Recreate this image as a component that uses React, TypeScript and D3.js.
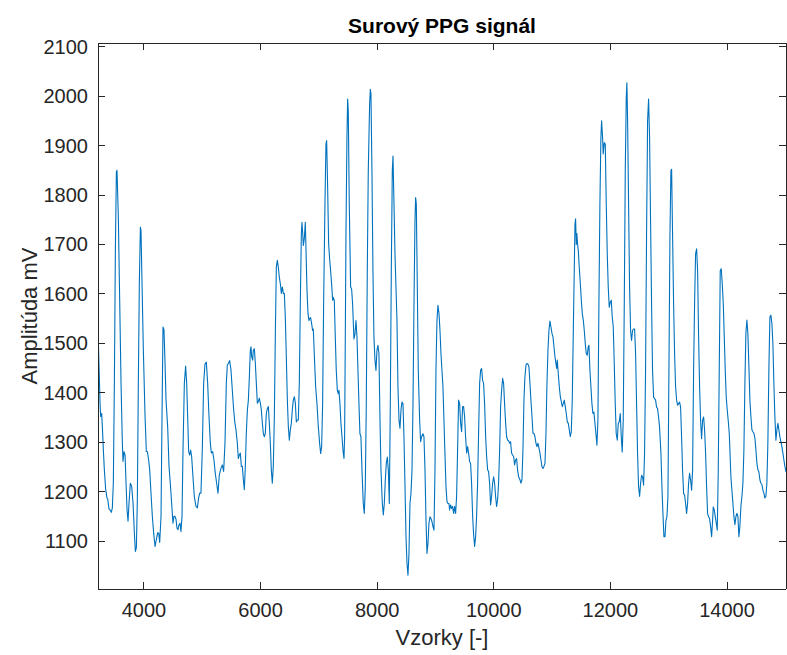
import React from 'react';
import * as d3 from 'd3';

const samples: number[] = [
  3211, 3229, 3246, 3257, 3274, 3286, 3303, 3320, 3343, 3366,
  3377, 3400, 3423, 3440, 3457, 3474, 3492, 3509, 3526, 3537,
  3560, 3583, 3606, 3629, 3640, 3657, 3675, 3692, 3709, 3726,
  3743, 3766, 3789, 3812, 3835, 3852, 3869, 3886, 3903, 3920,
  3938, 3949, 3966, 3989, 4018, 4040, 4058, 4080, 4098, 4120,
  4143, 4166, 4189, 4212, 4235, 4252, 4269, 4292, 4309, 4326,
  4343, 4361, 4378, 4406, 4429, 4451, 4474, 4497, 4514, 4531,
  4549, 4566, 4583, 4600, 4617, 4634, 4652, 4669, 4692, 4714,
  4732, 4749, 4766, 4783, 4800, 4817, 4840, 4863, 4892, 4915,
  4937, 4955, 4977, 5000, 5023, 5046, 5069, 5092, 5115, 5138,
  5155, 5178, 5200, 5223, 5246, 5269, 5292, 5320, 5343, 5366,
  5389, 5412, 5429, 5446, 5469, 5492, 5515, 5538, 5560, 5578,
  5601, 5618, 5635, 5652, 5670, 5687, 5704, 5721, 5738, 5755,
  5773, 5790, 5807, 5824, 5835, 5847, 5864, 5875, 5893, 5910,
  5927, 5944, 5961, 5978, 5996, 6013, 6030, 6047, 6064, 6081,
  6098, 6116, 6133, 6150, 6167, 6184, 6201, 6218, 6236, 6253,
  6270, 6287, 6304, 6321, 6338, 6356, 6373, 6390, 6407, 6424,
  6441, 6459, 6476, 6493, 6510, 6527, 6544, 6561, 6579, 6596,
  6613, 6630, 6647, 6664, 6682, 6699, 6710, 6722, 6733, 6750,
  6767, 6779, 6796, 6813, 6830, 6841, 6858, 6875, 6892, 6904,
  6921, 6944, 6967, 6990, 7013, 7030, 7047, 7064, 7081, 7104,
  7121, 7133, 7150, 7167, 7184, 7201, 7218, 7236, 7247, 7264,
  7281, 7298, 7316, 7333, 7344, 7361, 7378, 7396, 7413, 7430,
  7441, 7453, 7464, 7481, 7493, 7504, 7521, 7544, 7561, 7578,
  7601, 7619, 7636, 7653, 7670, 7687, 7704, 7721, 7739, 7761,
  7779, 7796, 7813, 7830, 7847, 7870, 7882, 7893, 7910, 7927,
  7944, 7962, 7979, 7996, 8013, 8030, 8048, 8065, 8088, 8105,
  8122, 8139, 8156, 8174, 8191, 8208, 8225, 8242, 8259, 8271,
  8288, 8305, 8322, 8339, 8356, 8374, 8391, 8408, 8425, 8442,
  8459, 8477, 8494, 8511, 8528, 8545, 8562, 8579, 8597, 8614,
  8631, 8648, 8659, 8671, 8688, 8705, 8728, 8745, 8762, 8785,
  8802, 8820, 8837, 8854, 8871, 8888, 8905, 8922, 8940, 8957,
  8974, 8991, 9008, 9025, 9042, 9060, 9077, 9094, 9111, 9128,
  9145, 9162, 9180, 9197, 9214, 9231, 9242, 9259, 9276, 9293,
  9311, 9328, 9345, 9362, 9379, 9396, 9414, 9431, 9448, 9465,
  9482, 9499, 9516, 9534, 9551, 9568, 9585, 9602, 9619, 9637,
  9654, 9671, 9688, 9705, 9722, 9739, 9757, 9774, 9791, 9808,
  9825, 9842, 9860, 9877, 9894, 9911, 9928, 9945, 9962, 9980,
  9997, 10014, 10031, 10048, 10065, 10082, 10100, 10117, 10134, 10151,
  10168, 10185, 10203, 10220, 10237, 10254, 10271, 10288, 10305, 10322,
  10340, 10357, 10374, 10391, 10408, 10425, 10449, 10466, 10483, 10500,
  10517, 10534, 10552, 10569, 10586, 10603, 10620, 10637, 10655, 10672,
  10689, 10706, 10723, 10740, 10757, 10775, 10792, 10809, 10826, 10843,
  10860, 10878, 10895, 10912, 10929, 10946, 10963, 10980, 10998, 11015,
  11032, 11049, 11066, 11078, 11089, 11106, 11123, 11141, 11158, 11175,
  11192, 11209, 11226, 11243, 11261, 11278, 11295, 11312, 11329, 11346,
  11363, 11381, 11392, 11403, 11415, 11425, 11438, 11449, 11466, 11484,
  11501, 11518, 11535, 11552, 11569, 11586, 11603, 11620, 11632, 11649,
  11666, 11683, 11700, 11717, 11735, 11752, 11769, 11786, 11803, 11820,
  11837, 11849, 11866, 11877, 11895, 11912, 11929, 11946, 11963, 11980,
  11997, 12015, 12032, 12049, 12066, 12083, 12100, 12118, 12135, 12152,
  12169, 12186, 12203, 12220, 12238, 12255, 12272, 12283, 12295, 12312,
  12329, 12346, 12363, 12380, 12398, 12415, 12432, 12449, 12466, 12483,
  12501, 12518, 12535, 12552, 12569, 12586, 12603, 12620, 12638, 12655,
  12672, 12689, 12706, 12723, 12741, 12758, 12775, 12792, 12809, 12826,
  12843, 12867, 12884, 12901, 12918, 12936, 12953, 12970, 12987, 13004,
  13021, 13038, 13050, 13067, 13084, 13101, 13118, 13136, 13153, 13170,
  13187, 13204, 13221, 13238, 13256, 13273, 13290, 13307, 13324, 13341,
  13358, 13376, 13393, 13410, 13427, 13444, 13461, 13479, 13496, 13513,
  13530, 13547, 13564, 13581, 13599, 13616, 13633, 13650, 13667, 13684,
  13701, 13719, 13736, 13753, 13764, 13781, 13799, 13816, 13833, 13850,
  13867, 13884, 13901, 13919, 13936, 13953, 13970, 13987, 14004, 14021,
  14039, 14050, 14067, 14084, 14101, 14118, 14136, 14153, 14170, 14187,
  14204, 14221, 14238, 14256, 14273, 14290, 14307, 14324, 14341, 14358,
  14376, 14393, 14410, 14427, 14444, 14461, 14479, 14496, 14513, 14530,
  14547, 14564, 14581, 14599, 14616, 14633, 14650, 14667, 14684, 14701,
  14719, 14736, 14753, 14770, 14787, 14804, 14821, 14839, 14856, 14873,
  14890, 14907, 14924, 14941, 14959, 14976, 14993, 15012,
];

const amplitudes: number[] = [
  1530, 1453, 1379, 1352, 1358, 1331, 1284, 1244, 1204, 1187,
  1185, 1165, 1162, 1158, 1167, 1217, 1419, 1688, 1846, 1850,
  1755, 1587, 1419, 1298, 1261, 1281, 1274, 1217, 1163, 1140,
  1177, 1217, 1210, 1177, 1116, 1079, 1086, 1183, 1419, 1621,
  1735, 1728, 1621, 1486, 1352, 1281, 1281, 1264, 1244, 1197,
  1150, 1116, 1089, 1103, 1117, 1116, 1097, 1150, 1352, 1533,
  1527, 1459, 1385, 1331, 1251, 1217, 1177, 1136, 1150, 1150,
  1144, 1126, 1123, 1133, 1136, 1119, 1150, 1284, 1419, 1454,
  1419, 1352, 1281, 1274, 1284, 1271, 1230, 1190, 1170, 1167,
  1187, 1197, 1197, 1284, 1419, 1458, 1462, 1419, 1352, 1298,
  1278, 1281, 1264, 1237, 1217, 1197, 1234, 1247, 1254, 1241,
  1298, 1419, 1456, 1459, 1465, 1446, 1405, 1365, 1338, 1325,
  1298, 1267, 1274, 1278, 1251, 1251, 1224, 1204, 1251, 1318,
  1365, 1385, 1432, 1486, 1493, 1473, 1466, 1486, 1489, 1459,
  1419, 1379, 1382, 1389, 1379, 1365, 1338, 1318, 1311, 1318,
  1358, 1368, 1372, 1338, 1298, 1244, 1217, 1251, 1352, 1520,
  1654, 1668, 1654, 1634, 1621, 1601, 1614, 1601, 1601, 1553,
  1473, 1385, 1331, 1304, 1325, 1338, 1365, 1385, 1392, 1379,
  1341, 1345, 1345, 1419, 1587, 1722, 1745, 1722, 1698, 1712,
  1745, 1688, 1607, 1560, 1546, 1550, 1552, 1540, 1526, 1529,
  1479, 1412, 1378, 1331, 1297, 1277, 1291, 1378, 1580, 1782,
  1903, 1910, 1815, 1701, 1671, 1647, 1620, 1587, 1593, 1587,
  1513, 1445, 1405, 1398, 1405, 1378, 1338, 1311, 1284, 1267,
  1311, 1513, 1715, 1916, 1994, 1970, 1782, 1614, 1610, 1580,
  1509, 1519, 1546, 1513, 1445, 1378, 1317, 1311, 1243, 1176,
  1156, 1210, 1378, 1647, 1849, 1984, 2014, 2004, 1849, 1647,
  1513, 1466, 1445, 1486, 1496, 1479, 1344, 1243, 1176, 1153,
  1176, 1223, 1257, 1270, 1243, 1176, 1378, 1647, 1849, 1879,
  1782, 1681, 1614, 1546, 1412, 1344, 1328, 1365, 1381, 1378,
  1311, 1210, 1109, 1055, 1031, 1075, 1176, 1196, 1243, 1378,
  1580, 1748, 1795, 1782, 1614, 1445, 1344, 1301, 1311, 1317,
  1311, 1243, 1142, 1075, 1095, 1136, 1149, 1146, 1139, 1129,
  1122, 1243, 1445, 1546, 1577, 1560, 1526, 1479, 1445, 1412,
  1344, 1277, 1210, 1180, 1176, 1176, 1163, 1173, 1166, 1170,
  1156, 1170, 1156, 1190, 1284, 1385, 1378, 1338, 1321, 1372,
  1372, 1352, 1311, 1278, 1291, 1278, 1261, 1257, 1217, 1150,
  1113, 1089, 1109, 1150, 1217, 1318, 1419, 1446, 1449, 1425,
  1419, 1378, 1311, 1271, 1244, 1240, 1217, 1173, 1190, 1217,
  1230, 1217, 1190, 1170, 1183, 1217, 1284, 1372, 1405, 1429,
  1419, 1378, 1338, 1311, 1304, 1303, 1298, 1301, 1278, 1274,
  1271, 1254, 1264, 1267, 1244, 1230, 1224, 1217, 1224, 1284,
  1385, 1432, 1456, 1459, 1458, 1452, 1419, 1385, 1352, 1318,
  1318, 1311, 1298, 1291, 1298, 1288, 1278, 1264, 1251, 1247,
  1251, 1257, 1318, 1419, 1486, 1526, 1545, 1533, 1520, 1513,
  1493, 1473, 1459, 1449, 1466, 1439, 1412, 1392, 1382, 1372,
  1378, 1385, 1372, 1358, 1341, 1338, 1325, 1311, 1321, 1385,
  1520, 1654, 1740, 1752, 1700, 1722, 1700, 1688, 1654, 1621,
  1587, 1560, 1547, 1526, 1499, 1479, 1476, 1493, 1496, 1445,
  1412, 1378, 1358, 1361, 1338, 1317, 1294, 1344, 1580, 1782,
  1916, 1950, 1916, 1883, 1906, 1903, 1782, 1681, 1614, 1573,
  1583, 1587, 1553, 1533, 1459, 1378, 1317, 1304, 1338, 1341,
  1358, 1311, 1280, 1344, 1580, 1849, 1997, 2027, 1950, 1782,
  1614, 1526, 1506, 1526, 1529, 1529, 1479, 1378, 1277, 1210,
  1190, 1217, 1233, 1230, 1213, 1277, 1445, 1715, 1950, 1994,
  1916, 1748, 1580, 1445, 1391, 1388, 1385, 1371, 1368, 1351,
  1331, 1277, 1210, 1156, 1109, 1109, 1142, 1149, 1190, 1445,
  1715, 1849, 1852, 1715, 1580, 1479, 1412, 1385, 1375, 1378,
  1381, 1371, 1311, 1243, 1196, 1193, 1176, 1156, 1176, 1217,
  1237, 1223, 1203, 1243, 1445, 1580, 1681, 1691, 1647, 1513,
  1412, 1344, 1307, 1344, 1351, 1324, 1277, 1210, 1156, 1149,
  1146, 1129, 1109, 1142, 1169, 1163, 1149, 1136, 1122, 1243,
  1445, 1647, 1651, 1620, 1580, 1513, 1445, 1391, 1365, 1344,
  1317, 1284, 1230, 1203, 1177, 1150, 1133, 1150, 1156, 1150,
  1109, 1129, 1170, 1190, 1217, 1284, 1419, 1520, 1547, 1520,
  1452, 1385, 1352, 1325, 1321, 1318, 1308, 1284, 1257, 1244,
  1240, 1224, 1217, 1214, 1203, 1197, 1187, 1190, 1217, 1298,
  1452, 1553, 1557, 1540, 1500, 1419, 1352, 1304, 1325, 1338,
  1325, 1311, 1301, 1291, 1278, 1264, 1251, 1240,
];

const xTicks: number[] = [4000, 6000, 8000, 10000, 12000, 14000];
const yTicks: number[] = [1100, 1200, 1300, 1400, 1500, 1600, 1700, 1800, 1900, 2000, 2100];
const xDomain: [number, number] = [3211, 15012];
const yDomain: [number, number] = [1003, 2107.5];
const titleText = 'Surový PPG signál';
const xLabelText = 'Vzorky [-]';
const yLabelText = 'Amplitúda mV';

export default function App() {
  const W = 787;
  const H = 655;
  const left = 98;
  const right = 786;
  const top = 43;
  const bottom = 589;
  const x = d3.scaleLinear().domain(xDomain).range([left, right]);
  const y = d3.scaleLinear().domain(yDomain).range([bottom, top]);
  const n = Math.min(samples.length, amplitudes.length);
  const pts: [number, number][] = d3.range(n).map((i) => [samples[i], amplitudes[i]]);
  const linePath = d3
    .line<[number, number]>()
    .x((d) => x(d[0]))
    .y((d) => y(d[1]))(pts) as string;
  const axisColor = '#262626';
  const font = '"Liberation Sans", Arial, Helvetica, sans-serif';
  const tickLen = 7;
  return (
    <svg
      width={W}
      height={H}
      style={{ position: 'absolute', left: 0, top: 0, background: '#fff' }}
    >
      <rect x={0} y={0} width={W} height={H} fill="#fff" />
      <defs>
        <clipPath id="plotClip">
          <rect x={left} y={top} width={right - left} height={bottom - top} />
        </clipPath>
      </defs>
      <path
        d={linePath}
        fill="none"
        stroke="#0072BD"
        strokeWidth={1.1}
        strokeLinejoin="round"
        clipPath="url(#plotClip)"
      />
      <g stroke={axisColor} strokeWidth={1} shapeRendering="crispEdges">
        <line x1={left} x2={left} y1={top} y2={bottom} />
        <line x1={left} x2={right} y1={bottom} y2={bottom} />
        <line x1={left} x2={right} y1={top} y2={top} />
        <line x1={right} x2={right} y1={top} y2={bottom} />
        {xTicks.map((t) => (
          <g key={'xt' + t}>
            <line x1={x(t)} x2={x(t)} y1={bottom} y2={bottom - tickLen} />
            <line x1={x(t)} x2={x(t)} y1={top} y2={top + tickLen} />
          </g>
        ))}
        {yTicks.map((t) => (
          <g key={'yt' + t}>
            <line x1={left} x2={left + tickLen} y1={y(t)} y2={y(t)} />
            <line x1={right} x2={right - tickLen} y1={y(t)} y2={y(t)} />
          </g>
        ))}
      </g>
      <g fontFamily={font} fontSize={20} fill={axisColor}>
        {xTicks.map((t) => (
          <text key={'xl' + t} x={x(t)} y={bottom + 21} textAnchor="middle" dominantBaseline="central">
            {String(t)}
          </text>
        ))}
        {yTicks.map((t) => (
          <text key={'yl' + t} x={left - 10} y={y(t)} textAnchor="end" dominantBaseline="central">
            {String(t)}
          </text>
        ))}
      </g>
      <text
        x={(left + right) / 2}
        y={637}
        textAnchor="middle"
        dominantBaseline="central"
        fontFamily={font}
        fontSize={22}
        fill={axisColor}
      >
        {xLabelText}
      </text>
      <text
        transform={`translate(29, ${(top + bottom) / 2}) rotate(-90)`}
        textAnchor="middle"
        dominantBaseline="central"
        fontFamily={font}
        fontSize={22}
        fill={axisColor}
      >
        {yLabelText}
      </text>
      <text
        x={(left + right) / 2}
        y={25}
        textAnchor="middle"
        dominantBaseline="central"
        fontFamily={font}
        fontSize={21}
        fontWeight="bold"
        fill="#000"
      >
        {titleText}
      </text>
    </svg>
  );
}
